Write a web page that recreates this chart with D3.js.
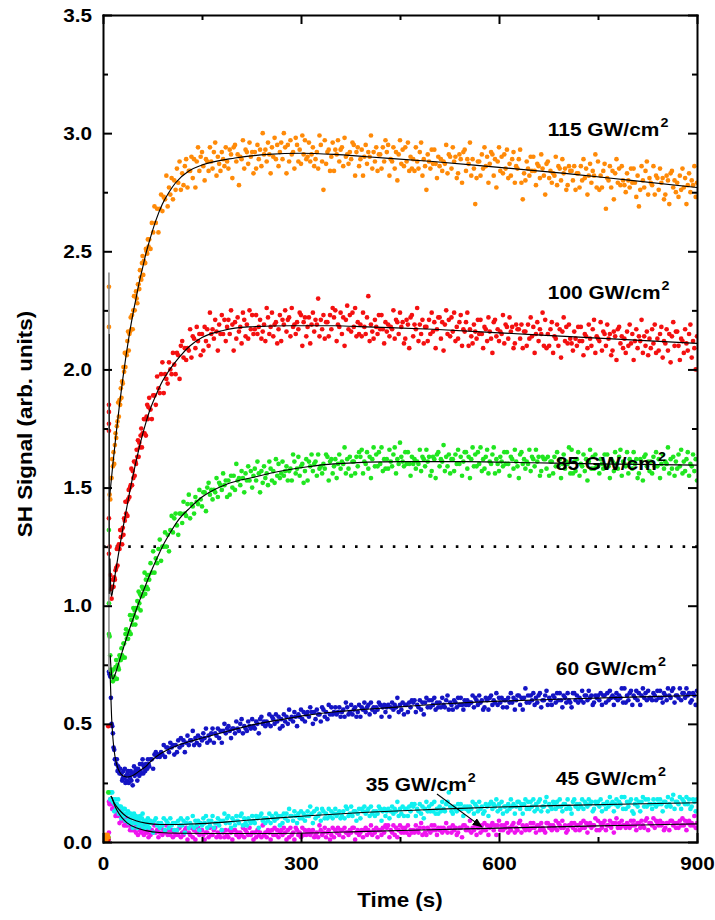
<!DOCTYPE html>
<html>
<head>
<meta charset="utf-8">
<script src="https://cdn.jsdelivr.net/npm/d3@7"></script>
<style>
  html, body { margin: 0; padding: 0; background: #fff; }
  svg { display: block; }
</style>
</head>
<body>
<svg id="chart" width="715" height="920"></svg>
<script>
// ---------------------------------------------------------------
// SH signal vs. time for six peak intensities (GW/cm^2)
// Readings are logged on three time grids:
//   baseline (before the beam opens), dense transient, slower plateau
// ---------------------------------------------------------------
const baselineStart = 1, baselineStep = 1;   // s
const earlyStart = 10, earlyStep = 1;        // s
const lateStart = 70, lateStep = 2;          // s

const xMajorTicks = [0, 300, 600, 900];
const xMinorTicks = [150, 450, 750];
const yMajorTicks = [0, 0.5, 1.0, 1.5, 2.0, 2.5, 3.0, 3.5];
const yMinorTicks = [0.25, 0.75, 1.25, 1.75, 2.25, 2.75, 3.25];

const intensities = ["115", "100", "85", "60", "45", "35"];
const thresholdLevel = 1.25;

// ---------- 115 GW/cm^2 ----------
const orangeBase = [0.02, 0.01, 0.03, 0.02, 0.01, 0.02, 0.03, 0.02];
const orangeOnset = [[9, 2.35], [9, 2.18]];
const orangeEarly = [
  1.47, 1.45, 1.54, 1.54, 1.62, 1.59, 1.65, 1.60, 1.68, 1.73, 1.71, 1.76, 1.78, 1.86, 1.80, 1.87, 1.85, 1.92, 1.88, 1.95,
  1.94, 2.01, 1.99, 2.07, 2.01, 2.07, 2.06, 2.12, 2.16, 2.08, 2.15, 2.16, 2.22, 2.17, 2.23, 2.17, 2.25, 2.31, 2.25, 2.31,
  2.33, 2.30, 2.28, 2.36, 2.36, 2.34, 2.42, 2.39, 2.38, 2.45, 2.48, 2.40, 2.46, 2.45, 2.45, 2.51, 2.50, 2.49, 2.55, 2.52];
const orangeLate = [
  2.55, 2.51, 2.62, 2.58, 2.69, 2.62, 2.68, 2.58, 2.68, 2.74, 2.67, 2.73, 2.72, 2.82, 2.69, 2.77, 2.74, 2.81, 2.72, 2.80,
  2.76, 2.85, 2.79, 2.88, 2.76, 2.83, 2.78, 2.86, 2.89, 2.77, 2.84, 2.84, 2.90, 2.81, 2.89, 2.77, 2.88, 2.94, 2.84, 2.90,
  2.92, 2.86, 2.80, 2.89, 2.88, 2.84, 2.94, 2.88, 2.85, 2.92, 2.96, 2.82, 2.90, 2.87, 2.84, 2.92, 2.89, 2.86, 2.94, 2.88,
  2.85, 2.93, 2.91, 2.81, 2.94, 2.95, 2.88, 2.91, 2.78, 2.90, 2.89, 2.97, 2.85, 2.93, 2.92, 2.87, 2.96, 2.90, 2.92, 2.83,
  2.92, 2.85, 2.95, 2.89, 2.93, 2.86, 3.00, 2.91, 2.93, 2.88, 2.96, 2.91, 2.83, 2.94, 2.90, 2.98, 2.89, 2.95, 2.86, 2.92,
  2.96, 2.89, 3.00, 2.94, 2.83, 2.95, 2.88, 2.97, 2.91, 2.92, 2.85, 2.98, 2.95, 2.88, 2.93, 2.87, 2.99, 2.91, 2.97, 2.89,
  2.90, 2.96, 2.88, 2.91, 2.94, 2.86, 2.89, 2.92, 2.85, 2.99, 2.95, 2.88, 2.76, 2.97, 2.87, 2.92, 2.93, 2.84, 2.90, 2.96,
  2.84, 2.93, 2.91, 2.97, 2.88, 2.93, 2.94, 2.86, 2.98, 2.90, 2.91, 2.87, 2.92, 2.89, 2.96, 2.95, 2.82, 2.92, 2.94, 2.86,
  2.89, 2.93, 2.82, 2.90, 2.95, 2.87, 2.92, 2.90, 2.99, 2.85, 2.92, 2.88, 2.94, 2.84, 2.91, 2.91, 2.85, 2.94, 2.88, 2.97,
  2.92, 2.95, 2.82, 2.89, 2.88, 2.94, 2.85, 2.92, 2.80, 2.91, 2.97, 2.87, 2.93, 2.86, 2.94, 2.88, 2.96, 2.84, 2.90, 2.85,
  2.89, 2.84, 2.94, 2.88, 2.85, 2.92, 2.96, 2.82, 2.89, 2.86, 2.76, 2.91, 2.88, 2.85, 2.93, 2.87, 2.93, 2.87, 2.81, 2.90,
  2.86, 2.89, 2.84, 2.88, 2.87, 2.95, 2.83, 2.91, 2.90, 2.85, 2.94, 2.88, 2.90, 2.81, 2.83, 2.91, 2.89, 2.79, 2.92, 2.93,
  2.84, 2.89, 2.87, 2.96, 2.82, 2.89, 2.85, 2.70, 2.81, 2.88, 2.88, 2.82, 2.91, 2.85, 2.94, 2.86, 2.90, 2.79, 2.87, 2.92,
  2.91, 2.82, 2.89, 2.77, 2.88, 2.94, 2.84, 2.90, 2.83, 2.91, 2.85, 2.93, 2.81, 2.87, 2.82, 2.89, 2.92, 2.79, 2.86, 2.85,
  2.89, 2.93, 2.79, 2.72, 2.83, 2.80, 2.88, 2.85, 2.82, 2.90, 2.84, 2.90, 2.84, 2.78, 2.87, 2.86, 2.81, 2.91, 2.85, 2.82,
  2.74, 2.87, 2.88, 2.81, 2.84, 2.79, 2.83, 2.82, 2.90, 2.78, 2.86, 2.85, 2.80, 2.89, 2.83, 2.85, 2.76, 2.78, 2.86, 2.84,
  2.84, 2.80, 2.86, 2.76, 2.83, 2.83, 2.77, 2.86, 2.80, 2.89, 2.81, 2.85, 2.74, 2.82, 2.87, 2.79, 2.84, 2.82, 2.91, 2.77,
  2.88, 2.76, 2.82, 2.77, 2.84, 2.87, 2.68, 2.81, 2.80, 2.86, 2.77, 2.84, 2.72, 2.83, 2.89, 2.79, 2.85, 2.78, 2.86, 2.80,
  2.78, 2.75, 2.83, 2.80, 2.77, 2.85, 2.79, 2.85, 2.79, 2.73, 2.82, 2.69, 2.76, 2.86, 2.80, 2.77, 2.84, 2.88, 2.74, 2.81,
  2.79, 2.78, 2.86, 2.74, 2.82, 2.81, 2.76, 2.85, 2.79, 2.81, 2.72, 2.74, 2.82, 2.80, 2.70, 2.83, 2.84, 2.77, 2.80, 2.75,
  2.79, 2.73, 2.82, 2.76, 2.85, 2.77, 2.81, 2.70, 2.78, 2.83, 2.75, 2.80, 2.78, 2.86, 2.73, 2.79];
const orangeFit = [[10, 1.46], [15, 1.6], [20, 1.73], [25, 1.85], [30, 1.96], [35, 2.06], [40, 2.15], [45, 2.23],
  [50, 2.3], [55, 2.37], [60, 2.43], [65, 2.49], [70, 2.54], [80, 2.63], [90, 2.7], [100, 2.75], [110, 2.79],
  [130, 2.84], [150, 2.865], [200, 2.895], [250, 2.91], [300, 2.915], [350, 2.91], [400, 2.9], [500, 2.88],
  [600, 2.855], [700, 2.83], [800, 2.8], [900, 2.77]];

// ---------- 100 GW/cm^2 ----------
const redBase = [0.01, 0.02, 0.01, 0.01, 0.02, 0.01, 0.02, 0.01];
const redOnset = [[8, 0.49], [9, 1.85], [9, 1.82], [9, 1.77], [9, 1.74], [9, 1.37], [9, 1.22]];
const redEarly = [
  1.25, 1.13, 1.07, 1.03, 1.08, 1.11, 1.08, 1.12, 1.11, 1.15, 1.16, 1.24, 1.17, 1.25, 1.26, 1.24, 1.32, 1.29, 1.32, 1.26,
  1.33, 1.30, 1.37, 1.36, 1.44, 1.39, 1.44, 1.38, 1.45, 1.49, 1.46, 1.50, 1.51, 1.58, 1.51, 1.57, 1.54, 1.61, 1.55, 1.61,
  1.60, 1.66, 1.63, 1.70, 1.63, 1.69, 1.67, 1.72, 1.75, 1.67, 1.73, 1.73, 1.79, 1.73, 1.79, 1.72, 1.80, 1.85, 1.79, 1.84];
const redLate = [
  1.88, 1.83, 1.79, 1.89, 1.89, 1.85, 1.97, 1.92, 1.90, 1.98, 2.03, 1.90, 1.98, 1.96, 1.94, 2.03, 2.00, 1.98, 2.07, 2.02,
  1.98, 2.07, 2.06, 1.96, 2.10, 2.12, 2.05, 2.09, 2.04, 2.09, 2.08, 2.17, 2.05, 2.14, 2.13, 2.09, 2.18, 2.12, 2.15, 2.06,
  2.15, 2.08, 2.18, 2.12, 2.17, 2.10, 2.24, 2.15, 2.17, 2.13, 2.21, 2.16, 2.08, 2.19, 2.15, 2.23, 2.15, 2.21, 2.12, 2.18,
  2.21, 2.15, 2.25, 2.19, 2.08, 2.20, 2.13, 2.22, 2.16, 2.18, 2.11, 2.24, 2.21, 2.14, 2.19, 2.13, 2.25, 2.17, 2.23, 2.15,
  2.17, 2.23, 2.15, 2.18, 2.21, 2.13, 2.16, 2.19, 2.12, 2.26, 2.22, 2.15, 2.18, 2.24, 2.14, 2.19, 2.20, 2.11, 2.17, 2.23,
  2.12, 2.21, 2.19, 2.25, 2.16, 2.21, 2.22, 2.14, 2.26, 2.18, 2.19, 2.15, 2.20, 2.17, 2.24, 2.23, 2.10, 2.20, 2.22, 2.14,
  2.18, 2.22, 2.11, 2.19, 2.24, 2.16, 2.21, 2.19, 2.30, 2.14, 2.21, 2.17, 2.23, 2.13, 2.20, 2.20, 2.14, 2.23, 2.17, 2.26,
  2.22, 2.25, 2.12, 2.19, 2.18, 2.24, 2.15, 2.22, 2.10, 2.21, 2.27, 2.17, 2.23, 2.16, 2.24, 2.18, 2.26, 2.14, 2.20, 2.15,
  2.19, 2.14, 2.24, 2.18, 2.15, 2.22, 2.31, 2.12, 2.19, 2.16, 2.13, 2.21, 2.18, 2.15, 2.23, 2.17, 2.23, 2.17, 2.11, 2.20,
  2.16, 2.19, 2.14, 2.18, 2.17, 2.25, 2.13, 2.21, 2.20, 2.15, 2.24, 2.18, 2.20, 2.11, 2.13, 2.21, 2.19, 2.09, 2.22, 2.23,
  2.14, 2.19, 2.17, 2.26, 2.12, 2.19, 2.15, 2.21, 2.11, 2.18, 2.18, 2.12, 2.21, 2.15, 2.24, 2.16, 2.20, 2.09, 2.17, 2.22,
  2.22, 2.13, 2.20, 2.08, 2.19, 2.25, 2.15, 2.21, 2.14, 2.22, 2.16, 2.24, 2.12, 2.18, 2.13, 2.20, 2.23, 2.10, 2.17, 2.16,
  2.20, 2.24, 2.10, 2.17, 2.14, 2.11, 2.19, 2.16, 2.13, 2.21, 2.15, 2.21, 2.15, 2.09, 2.18, 2.17, 2.12, 2.22, 2.16, 2.13,
  2.07, 2.20, 2.21, 2.14, 2.17, 2.12, 2.16, 2.15, 2.23, 2.11, 2.19, 2.18, 2.13, 2.22, 2.16, 2.18, 2.09, 2.11, 2.19, 2.17,
  2.17, 2.13, 2.19, 2.09, 2.16, 2.16, 2.10, 2.19, 2.13, 2.22, 2.14, 2.18, 2.07, 2.15, 2.20, 2.12, 2.17, 2.15, 2.24, 2.10,
  2.21, 2.09, 2.15, 2.10, 2.17, 2.20, 2.07, 2.14, 2.13, 2.19, 2.10, 2.17, 2.05, 2.16, 2.22, 2.12, 2.18, 2.11, 2.19, 2.13,
  2.11, 2.08, 2.16, 2.13, 2.10, 2.18, 2.12, 2.18, 2.12, 2.06, 2.15, 2.14, 2.09, 2.19, 2.13, 2.10, 2.17, 2.21, 2.07, 2.14,
  2.13, 2.12, 2.20, 2.08, 2.16, 2.15, 2.10, 2.19, 2.13, 2.15, 2.06, 2.08, 2.16, 2.14, 2.04, 2.17, 2.18, 2.11, 2.14, 2.09,
  2.13, 2.07, 2.16, 2.10, 2.19, 2.11, 2.15, 2.04, 2.12, 2.17, 2.09, 2.14, 2.12, 2.21, 2.07, 2.14, 2.10, 2.16, 2.06, 2.13,
  2.09, 2.17, 2.11, 2.19, 2.07, 2.13, 2.08, 2.15, 2.18, 2.05, 2.12, 2.11, 2.17, 2.08, 2.15, 2.03, 2.14, 2.20, 2.10, 2.16,
  2.16, 2.10, 2.04, 2.13, 2.12, 2.07, 2.17, 2.11, 2.08, 2.15, 2.19, 2.05, 2.12, 2.09, 2.00, 2.14];
const redFit = [[10.5, 1.2], [12, 1.06], [13, 1.04], [16, 1.09], [20, 1.16], [25, 1.245], [30, 1.325], [35, 1.4],
  [40, 1.475], [45, 1.545], [50, 1.61], [55, 1.67], [60, 1.725], [65, 1.775], [70, 1.82], [80, 1.89], [90, 1.95],
  [100, 1.995], [115, 2.05], [132, 2.1], [150, 2.135], [182, 2.165], [220, 2.18], [283, 2.185], [350, 2.185],
  [400, 2.18], [500, 2.17], [600, 2.155], [700, 2.14], [800, 2.125], [900, 2.11]];

// ---------- 85 GW/cm^2 ----------
const greenBase = [0.02, 0.01, 0.02, 0.01, 0.01, 0.02, 0.01, 0.02];
const greenOnset = [[8, 0.21], [9, 1.32], [9, 1.01], [9, 0.88]];
const greenEarly = [
  0.87, 0.79, 0.73, 0.72, 0.70, 0.68, 0.73, 0.70, 0.69, 0.74, 0.77, 0.69, 0.75, 0.74, 0.73, 0.79, 0.78, 0.77, 0.82, 0.79,
  0.78, 0.84, 0.84, 0.78, 0.88, 0.90, 0.86, 0.88, 0.86, 0.89, 0.89, 0.96, 0.88, 0.94, 0.94, 0.92, 0.99, 0.96, 0.98, 0.92,
  0.99, 0.95, 1.02, 0.99, 1.06, 1.01, 1.05, 0.98, 1.04, 1.08, 1.04, 1.07, 1.07, 1.14, 1.05, 1.11, 1.08, 1.13, 1.07, 1.13];
const greenLate = [
  1.11, 1.18, 1.14, 1.23, 1.14, 1.20, 1.18, 1.24, 1.28, 1.19, 1.25, 1.25, 1.31, 1.25, 1.30, 1.23, 1.32, 1.38, 1.31, 1.37,
  1.39, 1.34, 1.30, 1.39, 1.39, 1.35, 1.44, 1.39, 1.38, 1.43, 1.47, 1.37, 1.43, 1.42, 1.39, 1.46, 1.44, 1.43, 1.49, 1.45,
  1.42, 1.48, 1.48, 1.40, 1.50, 1.52, 1.47, 1.49, 1.45, 1.49, 1.48, 1.54, 1.46, 1.52, 1.51, 1.49, 1.56, 1.51, 1.53, 1.46,
  1.53, 1.47, 1.55, 1.50, 1.55, 1.49, 1.60, 1.53, 1.54, 1.51, 1.57, 1.54, 1.48, 1.56, 1.53, 1.59, 1.53, 1.57, 1.50, 1.55,
  1.58, 1.53, 1.61, 1.56, 1.48, 1.57, 1.52, 1.59, 1.54, 1.56, 1.51, 1.61, 1.58, 1.53, 1.57, 1.52, 1.62, 1.55, 1.60, 1.54,
  1.56, 1.61, 1.55, 1.57, 1.59, 1.53, 1.57, 1.58, 1.53, 1.64, 1.61, 1.56, 1.58, 1.63, 1.55, 1.59, 1.60, 1.52, 1.57, 1.62,
  1.53, 1.61, 1.59, 1.64, 1.57, 1.60, 1.61, 1.55, 1.64, 1.58, 1.59, 1.56, 1.60, 1.58, 1.64, 1.63, 1.53, 1.61, 1.62, 1.56,
  1.59, 1.62, 1.54, 1.60, 1.64, 1.58, 1.61, 1.60, 1.67, 1.56, 1.62, 1.58, 1.63, 1.55, 1.61, 1.61, 1.56, 1.63, 1.59, 1.65,
  1.63, 1.66, 1.56, 1.61, 1.60, 1.65, 1.58, 1.63, 1.54, 1.62, 1.67, 1.59, 1.64, 1.59, 1.65, 1.60, 1.67, 1.57, 1.62, 1.58,
  1.62, 1.58, 1.66, 1.61, 1.59, 1.64, 1.67, 1.56, 1.62, 1.60, 1.69, 1.63, 1.61, 1.59, 1.65, 1.60, 1.65, 1.60, 1.55, 1.63,
  1.60, 1.62, 1.58, 1.61, 1.60, 1.66, 1.57, 1.63, 1.62, 1.59, 1.66, 1.61, 1.63, 1.55, 1.57, 1.63, 1.62, 1.54, 1.64, 1.65,
  1.59, 1.62, 1.61, 1.68, 1.57, 1.63, 1.59, 1.64, 1.56, 1.62, 1.62, 1.57, 1.64, 1.60, 1.66, 1.60, 1.63, 1.55, 1.61, 1.65,
  1.65, 1.58, 1.63, 1.54, 1.62, 1.67, 1.59, 1.64, 1.59, 1.65, 1.60, 1.67, 1.57, 1.62, 1.58, 1.63, 1.66, 1.56, 1.61, 1.60,
  1.64, 1.67, 1.56, 1.62, 1.60, 1.57, 1.63, 1.61, 1.59, 1.65, 1.60, 1.65, 1.60, 1.55, 1.63, 1.62, 1.58, 1.66, 1.61, 1.59,
  1.54, 1.64, 1.65, 1.60, 1.62, 1.58, 1.61, 1.60, 1.66, 1.57, 1.63, 1.62, 1.59, 1.66, 1.61, 1.63, 1.55, 1.57, 1.63, 1.62,
  1.62, 1.58, 1.63, 1.55, 1.61, 1.61, 1.56, 1.63, 1.59, 1.65, 1.59, 1.62, 1.54, 1.60, 1.64, 1.58, 1.61, 1.60, 1.67, 1.56,
  1.66, 1.56, 1.61, 1.57, 1.62, 1.65, 1.55, 1.60, 1.59, 1.64, 1.57, 1.62, 1.53, 1.61, 1.66, 1.58, 1.63, 1.58, 1.64, 1.59,
  1.59, 1.56, 1.62, 1.60, 1.58, 1.64, 1.59, 1.64, 1.59, 1.54, 1.62, 1.61, 1.57, 1.65, 1.60, 1.58, 1.63, 1.66, 1.55, 1.61,
  1.60, 1.59, 1.65, 1.56, 1.62, 1.61, 1.58, 1.65, 1.60, 1.62, 1.54, 1.56, 1.62, 1.61, 1.53, 1.63, 1.64, 1.59, 1.61, 1.57,
  1.61, 1.56, 1.63, 1.59, 1.65, 1.59, 1.62, 1.54, 1.60, 1.64, 1.58, 1.61, 1.60, 1.67, 1.56, 1.62, 1.58, 1.63, 1.55, 1.61,
  1.58, 1.64, 1.59, 1.66, 1.56, 1.61, 1.57, 1.62, 1.65, 1.55, 1.60, 1.59, 1.64, 1.57, 1.62, 1.53];
const greenFit = [[11, 0.79], [12, 0.74], [13, 0.71], [15, 0.69], [17, 0.7], [20, 0.723], [25, 0.768], [30, 0.813],
  [35, 0.857], [40, 0.9], [45, 0.94], [50, 0.98], [55, 1.018], [60, 1.055], [65, 1.09], [70, 1.125], [80, 1.19],
  [90, 1.25], [100, 1.3], [115, 1.365], [132, 1.415], [150, 1.46], [188, 1.515], [230, 1.545], [270, 1.57],
  [310, 1.588], [350, 1.6], [450, 1.61], [550, 1.61], [650, 1.605], [750, 1.6], [900, 1.595]];

// ---------- 60 GW/cm^2 ----------
const blueBase = [0.01, 0.02, 0.02, 0.01, 0.01, 0.02, 0.01, 0.01];
const blueOnset = [[9, 0.72]];
const blueEarly = [
  0.71, 0.70, 0.61, 0.50, 0.49, 0.46, 0.40, 0.39, 0.35, 0.35, 0.33, 0.35, 0.30, 0.32, 0.31, 0.29, 0.31, 0.29, 0.29, 0.26,
  0.27, 0.30, 0.27, 0.31, 0.25, 0.28, 0.26, 0.29, 0.30, 0.25, 0.28, 0.27, 0.30, 0.26, 0.29, 0.24, 0.29, 0.32, 0.28, 0.30,
  0.31, 0.29, 0.26, 0.31, 0.30, 0.28, 0.33, 0.30, 0.29, 0.33, 0.35, 0.29, 0.32, 0.31, 0.30, 0.33, 0.32, 0.31, 0.35, 0.33];
const blueLate = [
  0.32, 0.35, 0.35, 0.31, 0.37, 0.38, 0.36, 0.37, 0.36, 0.38, 0.37, 0.41, 0.36, 0.40, 0.40, 0.38, 0.42, 0.40, 0.41, 0.37,
  0.41, 0.38, 0.43, 0.40, 0.44, 0.41, 0.43, 0.38, 0.42, 0.45, 0.41, 0.43, 0.43, 0.47, 0.41, 0.44, 0.42, 0.45, 0.41, 0.44,
  0.43, 0.46, 0.44, 0.48, 0.42, 0.45, 0.43, 0.46, 0.48, 0.42, 0.46, 0.45, 0.48, 0.44, 0.47, 0.42, 0.47, 0.50, 0.46, 0.48,
  0.49, 0.47, 0.44, 0.48, 0.48, 0.46, 0.51, 0.48, 0.47, 0.50, 0.52, 0.46, 0.49, 0.48, 0.47, 0.51, 0.49, 0.48, 0.52, 0.49,
  0.48, 0.51, 0.50, 0.46, 0.52, 0.53, 0.50, 0.51, 0.49, 0.51, 0.50, 0.54, 0.49, 0.53, 0.52, 0.50, 0.54, 0.51, 0.53, 0.48,
  0.52, 0.49, 0.54, 0.51, 0.53, 0.50, 0.56, 0.52, 0.53, 0.51, 0.55, 0.53, 0.49, 0.54, 0.53, 0.56, 0.52, 0.55, 0.51, 0.54,
  0.55, 0.53, 0.57, 0.55, 0.50, 0.55, 0.52, 0.56, 0.54, 0.54, 0.51, 0.57, 0.56, 0.53, 0.55, 0.52, 0.58, 0.54, 0.57, 0.54,
  0.55, 0.57, 0.54, 0.55, 0.57, 0.53, 0.55, 0.56, 0.53, 0.59, 0.57, 0.54, 0.55, 0.58, 0.54, 0.56, 0.57, 0.53, 0.55, 0.58,
  0.53, 0.57, 0.56, 0.59, 0.55, 0.57, 0.58, 0.54, 0.59, 0.56, 0.57, 0.55, 0.57, 0.56, 0.59, 0.58, 0.53, 0.57, 0.58, 0.55,
  0.57, 0.58, 0.53, 0.57, 0.59, 0.56, 0.58, 0.57, 0.61, 0.55, 0.58, 0.56, 0.59, 0.54, 0.58, 0.58, 0.55, 0.59, 0.57, 0.60,
  0.59, 0.60, 0.55, 0.58, 0.57, 0.60, 0.56, 0.59, 0.54, 0.59, 0.61, 0.57, 0.60, 0.57, 0.60, 0.58, 0.61, 0.56, 0.59, 0.57,
  0.59, 0.57, 0.61, 0.58, 0.57, 0.60, 0.62, 0.56, 0.59, 0.58, 0.56, 0.60, 0.59, 0.57, 0.61, 0.58, 0.61, 0.58, 0.56, 0.60,
  0.58, 0.60, 0.58, 0.59, 0.59, 0.62, 0.57, 0.61, 0.60, 0.58, 0.62, 0.59, 0.60, 0.56, 0.57, 0.61, 0.60, 0.56, 0.61, 0.62,
  0.58, 0.60, 0.59, 0.63, 0.58, 0.61, 0.59, 0.61, 0.57, 0.60, 0.60, 0.57, 0.61, 0.59, 0.63, 0.59, 0.61, 0.56, 0.60, 0.62,
  0.62, 0.58, 0.61, 0.56, 0.61, 0.65, 0.59, 0.62, 0.59, 0.62, 0.60, 0.63, 0.58, 0.61, 0.59, 0.62, 0.63, 0.57, 0.60, 0.60,
  0.62, 0.64, 0.58, 0.61, 0.60, 0.58, 0.62, 0.61, 0.59, 0.63, 0.60, 0.63, 0.60, 0.57, 0.62, 0.61, 0.59, 0.63, 0.60, 0.59,
  0.57, 0.63, 0.63, 0.60, 0.62, 0.59, 0.61, 0.60, 0.64, 0.59, 0.62, 0.62, 0.60, 0.64, 0.61, 0.62, 0.58, 0.59, 0.62, 0.61,
  0.62, 0.60, 0.63, 0.58, 0.62, 0.62, 0.59, 0.63, 0.60, 0.64, 0.61, 0.62, 0.58, 0.61, 0.63, 0.60, 0.62, 0.61, 0.65, 0.59,
  0.65, 0.59, 0.62, 0.60, 0.63, 0.64, 0.58, 0.62, 0.61, 0.64, 0.60, 0.63, 0.58, 0.62, 0.65, 0.61, 0.63, 0.60, 0.64, 0.61,
  0.61, 0.60, 0.63, 0.62, 0.60, 0.64, 0.61, 0.64, 0.61, 0.59, 0.63, 0.62, 0.60, 0.65, 0.62, 0.61, 0.64, 0.65, 0.59, 0.62,
  0.62, 0.61, 0.65, 0.60, 0.63, 0.63, 0.61, 0.65, 0.62, 0.63, 0.59, 0.60, 0.63, 0.62, 0.58, 0.64];
const blueFit = [[10, 0.72], [11, 0.69], [12, 0.61], [13, 0.53], [14, 0.48], [15, 0.44], [16, 0.41], [18, 0.365],
  [20, 0.337], [22, 0.317], [25, 0.297], [28, 0.285], [32, 0.278], [36, 0.275], [40, 0.276], [45, 0.281], [50, 0.29],
  [55, 0.3], [60, 0.31], [65, 0.32], [70, 0.335], [80, 0.36], [90, 0.379], [100, 0.393], [110, 0.405], [130, 0.424],
  [150, 0.44], [190, 0.47], [230, 0.498], [270, 0.518], [310, 0.537], [350, 0.55], [400, 0.562], [450, 0.572],
  [500, 0.582], [550, 0.59], [600, 0.596], [700, 0.605], [800, 0.613], [900, 0.62]];

// ---------- 45 GW/cm^2 ----------
const cyanBase = [0.01, 0.01, 0.02, 0.01, 0.02, 0.01, 0.01, 0.02];
const cyanOnset = [[9, 0.21]];
const cyanEarly = [
  0.21, 0.18, 0.21, 0.18, 0.21, 0.17, 0.18, 0.13, 0.16, 0.18, 0.14, 0.16, 0.14, 0.18, 0.12, 0.15, 0.12, 0.15, 0.10, 0.13,
  0.11, 0.14, 0.11, 0.14, 0.09, 0.12, 0.09, 0.12, 0.13, 0.08, 0.10, 0.09, 0.12, 0.08, 0.11, 0.06, 0.10, 0.12, 0.08, 0.10,
  0.11, 0.08, 0.06, 0.10, 0.09, 0.07, 0.11, 0.08, 0.07, 0.10, 0.12, 0.06, 0.09, 0.08, 0.06, 0.09, 0.08, 0.07, 0.10, 0.08];
const cyanLate = [
  0.06, 0.09, 0.08, 0.04, 0.09, 0.10, 0.07, 0.08, 0.06, 0.08, 0.07, 0.10, 0.05, 0.09, 0.08, 0.06, 0.10, 0.07, 0.08, 0.05,
  0.08, 0.05, 0.09, 0.07, 0.10, 0.07, 0.09, 0.04, 0.08, 0.10, 0.06, 0.08, 0.07, 0.11, 0.06, 0.09, 0.07, 0.09, 0.05, 0.08,
  0.07, 0.10, 0.08, 0.11, 0.06, 0.09, 0.07, 0.09, 0.11, 0.06, 0.08, 0.08, 0.10, 0.07, 0.09, 0.05, 0.09, 0.12, 0.08, 0.10,
  0.11, 0.08, 0.06, 0.10, 0.09, 0.07, 0.11, 0.09, 0.08, 0.11, 0.12, 0.07, 0.10, 0.08, 0.07, 0.10, 0.09, 0.08, 0.11, 0.09,
  0.08, 0.11, 0.10, 0.06, 0.11, 0.12, 0.09, 0.10, 0.08, 0.10, 0.09, 0.12, 0.08, 0.11, 0.10, 0.09, 0.12, 0.10, 0.11, 0.07,
  0.11, 0.08, 0.12, 0.10, 0.12, 0.09, 0.14, 0.11, 0.11, 0.09, 0.13, 0.11, 0.08, 0.12, 0.10, 0.13, 0.10, 0.12, 0.09, 0.11,
  0.13, 0.11, 0.15, 0.12, 0.08, 0.13, 0.10, 0.14, 0.11, 0.12, 0.09, 0.14, 0.13, 0.10, 0.12, 0.10, 0.14, 0.11, 0.13, 0.10,
  0.12, 0.14, 0.11, 0.12, 0.13, 0.10, 0.11, 0.13, 0.10, 0.15, 0.14, 0.11, 0.12, 0.15, 0.11, 0.13, 0.13, 0.09, 0.12, 0.14,
  0.10, 0.14, 0.13, 0.15, 0.12, 0.13, 0.14, 0.11, 0.15, 0.12, 0.13, 0.11, 0.13, 0.12, 0.15, 0.14, 0.09, 0.13, 0.14, 0.11,
  0.13, 0.14, 0.10, 0.13, 0.15, 0.12, 0.14, 0.13, 0.17, 0.11, 0.14, 0.12, 0.15, 0.11, 0.14, 0.14, 0.11, 0.15, 0.13, 0.16,
  0.15, 0.16, 0.11, 0.14, 0.13, 0.16, 0.12, 0.15, 0.10, 0.14, 0.17, 0.13, 0.15, 0.13, 0.16, 0.13, 0.17, 0.12, 0.14, 0.12,
  0.15, 0.13, 0.17, 0.14, 0.13, 0.16, 0.17, 0.21, 0.15, 0.13, 0.12, 0.15, 0.14, 0.13, 0.16, 0.14, 0.16, 0.14, 0.11, 0.15,
  0.14, 0.15, 0.13, 0.15, 0.14, 0.17, 0.12, 0.16, 0.15, 0.13, 0.17, 0.14, 0.15, 0.12, 0.13, 0.16, 0.15, 0.11, 0.16, 0.17,
  0.14, 0.16, 0.15, 0.18, 0.13, 0.16, 0.14, 0.17, 0.12, 0.15, 0.15, 0.13, 0.16, 0.14, 0.18, 0.15, 0.16, 0.12, 0.15, 0.17,
  0.17, 0.14, 0.16, 0.12, 0.16, 0.18, 0.14, 0.17, 0.14, 0.17, 0.15, 0.18, 0.13, 0.16, 0.14, 0.17, 0.18, 0.13, 0.15, 0.15,
  0.17, 0.19, 0.13, 0.16, 0.15, 0.14, 0.17, 0.16, 0.14, 0.17, 0.15, 0.18, 0.15, 0.13, 0.16, 0.16, 0.14, 0.18, 0.15, 0.14,
  0.12, 0.17, 0.18, 0.15, 0.16, 0.14, 0.16, 0.15, 0.18, 0.14, 0.17, 0.16, 0.15, 0.18, 0.16, 0.17, 0.13, 0.14, 0.17, 0.16,
  0.17, 0.15, 0.18, 0.13, 0.16, 0.16, 0.14, 0.17, 0.15, 0.19, 0.16, 0.17, 0.13, 0.16, 0.18, 0.15, 0.17, 0.16, 0.19, 0.14,
  0.19, 0.14, 0.17, 0.15, 0.17, 0.18, 0.13, 0.12, 0.16, 0.18, 0.15, 0.17, 0.13, 0.17, 0.19, 0.15, 0.18, 0.15, 0.18, 0.16,
  0.16, 0.14, 0.18, 0.16, 0.15, 0.18, 0.16, 0.18, 0.16, 0.13, 0.17, 0.17, 0.15, 0.19, 0.16, 0.15, 0.18, 0.20, 0.14, 0.17,
  0.17, 0.16, 0.19, 0.14, 0.18, 0.17, 0.16, 0.19, 0.16, 0.18, 0.14, 0.15, 0.18, 0.17, 0.13, 0.18];
const cyanFit = [[12, 0.195], [13, 0.19], [17, 0.165], [21, 0.149], [28, 0.126], [36, 0.107], [50, 0.09], [65, 0.08],
  [86, 0.074], [110, 0.074], [140, 0.077], [162, 0.08], [200, 0.088], [250, 0.099], [311, 0.111], [400, 0.126],
  [500, 0.138], [600, 0.148], [700, 0.155], [800, 0.161], [900, 0.166]];

// ---------- 35 GW/cm^2 ----------
const magentaBase = [0.02, 0.01, 0.01, 0.02, 0.01, 0.02, 0.02, 0.01];
const magentaOnset = [[9, 0.17], [9, 0.04]];
const magentaEarly = [
  0.16, 0.18, 0.16, 0.18, 0.14, 0.16, 0.14, 0.15, 0.16, 0.11, 0.13, 0.12, 0.14, 0.11, 0.12, 0.08, 0.11, 0.13, 0.09, 0.11,
  0.11, 0.09, 0.07, 0.10, 0.09, 0.07, 0.10, 0.08, 0.07, 0.09, 0.10, 0.05, 0.08, 0.06, 0.05, 0.08, 0.06, 0.05, 0.08, 0.06,
  0.04, 0.07, 0.06, 0.03, 0.07, 0.07, 0.05, 0.06, 0.04, 0.05, 0.05, 0.07, 0.03, 0.06, 0.05, 0.04, 0.07, 0.04, 0.05, 0.02];
const magentaLate = [
  0.05, 0.03, 0.05, 0.04, 0.07, 0.04, 0.05, 0.02, 0.04, 0.06, 0.03, 0.05, 0.04, 0.07, 0.03, 0.05, 0.03, 0.05, 0.02, 0.04,
  0.03, 0.05, 0.03, 0.06, 0.02, 0.04, 0.03, 0.05, 0.06, 0.01, 0.04, 0.03, 0.06, 0.02, 0.05, 0.01, 0.04, 0.06, 0.03, 0.05,
  0.05, 0.03, 0.01, 0.04, 0.04, 0.02, 0.06, 0.03, 0.03, 0.05, 0.06, 0.02, 0.04, 0.03, 0.02, 0.05, 0.04, 0.02, 0.05, 0.03,
  0.02, 0.05, 0.04, 0.01, 0.05, 0.05, 0.03, 0.04, 0.02, 0.04, 0.03, 0.06, 0.02, 0.05, 0.04, 0.03, 0.06, 0.03, 0.04, 0.01,
  0.04, 0.02, 0.05, 0.03, 0.04, 0.02, 0.07, 0.03, 0.04, 0.02, 0.05, 0.04, 0.01, 0.05, 0.03, 0.06, 0.03, 0.05, 0.02, 0.04,
  0.05, 0.03, 0.06, 0.04, 0.01, 0.05, 0.02, 0.06, 0.03, 0.04, 0.01, 0.06, 0.05, 0.03, 0.04, 0.02, 0.06, 0.03, 0.05, 0.03,
  0.04, 0.05, 0.03, 0.04, 0.05, 0.02, 0.03, 0.04, 0.02, 0.07, 0.05, 0.03, 0.04, 0.06, 0.02, 0.04, 0.05, 0.01, 0.03, 0.06,
  0.02, 0.05, 0.04, 0.06, 0.03, 0.05, 0.05, 0.02, 0.06, 0.04, 0.04, 0.03, 0.05, 0.04, 0.06, 0.06, 0.01, 0.04, 0.05, 0.03,
  0.04, 0.05, 0.02, 0.05, 0.06, 0.03, 0.05, 0.04, 0.07, 0.03, 0.05, 0.04, 0.06, 0.02, 0.05, 0.05, 0.03, 0.06, 0.04, 0.07,
  0.06, 0.07, 0.02, 0.05, 0.04, 0.07, 0.03, 0.06, 0.02, 0.05, 0.07, 0.04, 0.06, 0.04, 0.06, 0.04, 0.07, 0.03, 0.05, 0.04,
  0.05, 0.04, 0.07, 0.05, 0.04, 0.06, 0.08, 0.03, 0.06, 0.04, 0.03, 0.06, 0.05, 0.04, 0.07, 0.05, 0.07, 0.05, 0.03, 0.06,
  0.05, 0.06, 0.04, 0.06, 0.05, 0.08, 0.04, 0.06, 0.06, 0.04, 0.07, 0.05, 0.06, 0.03, 0.04, 0.06, 0.06, 0.02, 0.07, 0.07,
  0.05, 0.06, 0.05, 0.09, 0.04, 0.06, 0.05, 0.07, 0.03, 0.06, 0.06, 0.04, 0.07, 0.05, 0.08, 0.05, 0.07, 0.03, 0.06, 0.07,
  0.08, 0.05, 0.07, 0.03, 0.07, 0.09, 0.05, 0.07, 0.05, 0.07, 0.06, 0.08, 0.04, 0.06, 0.05, 0.07, 0.08, 0.04, 0.06, 0.05,
  0.08, 0.09, 0.04, 0.07, 0.06, 0.05, 0.07, 0.06, 0.05, 0.08, 0.06, 0.08, 0.06, 0.04, 0.07, 0.07, 0.05, 0.08, 0.06, 0.05,
  0.04, 0.08, 0.08, 0.06, 0.07, 0.05, 0.07, 0.06, 0.09, 0.05, 0.08, 0.07, 0.06, 0.09, 0.06, 0.07, 0.04, 0.05, 0.07, 0.07,
  0.08, 0.06, 0.08, 0.05, 0.07, 0.07, 0.05, 0.08, 0.06, 0.09, 0.06, 0.08, 0.04, 0.07, 0.08, 0.06, 0.07, 0.07, 0.10, 0.05,
  0.09, 0.05, 0.08, 0.06, 0.08, 0.09, 0.05, 0.07, 0.07, 0.09, 0.06, 0.08, 0.04, 0.08, 0.10, 0.06, 0.08, 0.06, 0.09, 0.07,
  0.07, 0.06, 0.08, 0.07, 0.06, 0.09, 0.07, 0.09, 0.07, 0.05, 0.08, 0.08, 0.06, 0.09, 0.07, 0.06, 0.09, 0.10, 0.05, 0.08,
  0.08, 0.07, 0.10, 0.06, 0.09, 0.08, 0.07, 0.09, 0.07, 0.08, 0.05, 0.06, 0.08, 0.08, 0.05, 0.09, 0.09, 0.07, 0.08, 0.06,
  0.08, 0.06, 0.09, 0.07, 0.10, 0.07, 0.09, 0.05, 0.08, 0.09, 0.07, 0.08, 0.07, 0.11, 0.06, 0.08];
const magentaFit = [[12, 0.195], [13, 0.19], [17, 0.16], [21, 0.135], [28, 0.105], [36, 0.082], [50, 0.06], [65, 0.048],
  [86, 0.04], [120, 0.037], [162, 0.036], [250, 0.036], [311, 0.038], [400, 0.045], [500, 0.052], [600, 0.059],
  [700, 0.065], [800, 0.071], [900, 0.077]];

// common beam-opening transient (all runs start at t = 9 s)
const onsetTrace = [[9, 2.41], [9, 0.72]];
const onsetFitTrace = [[9.5, 2.15], [9.5, 1.05]];

// arrow pointing the 35 GW/cm^2 label at its curve
const arrowFrom = [506, 0.203];
const arrowTo = [575, 0.062];

// ---------------------------------------------------------------
// layout
// ---------------------------------------------------------------
const W = 715, H = 920;
const plotLeft = 103, plotRight = 697, plotTop = 15, plotBottom = 842;
const font = '"Liberation Sans", Arial, Helvetica, sans-serif';
const stretch = "scale(1.09,1)";
const dotRadius = 2.35;

const series = [
  { id: "35",  color: "#ef14ef", base: magentaBase, onset: magentaOnset, early: magentaEarly, late: magentaLate, fit: magentaFit },
  { id: "45",  color: "#10f0f0", base: cyanBase,    onset: cyanOnset,    early: cyanEarly,    late: cyanLate,    fit: cyanFit },
  { id: "60",  color: "#1414c4", base: blueBase,    onset: blueOnset,    early: blueEarly,    late: blueLate,    fit: blueFit },
  { id: "85",  color: "#20e620", base: greenBase,   onset: greenOnset,   early: greenEarly,   late: greenLate,   fit: greenFit },
  { id: "100", color: "#f41010", base: redBase,     onset: redOnset,     early: redEarly,     late: redLate,     fit: redFit },
  { id: "115", color: "#ff8a08", base: orangeBase,  onset: orangeOnset,  early: orangeEarly,  late: orangeLate,  fit: orangeFit }
];

// where each intensity label sits (data units: left edge time, baseline value)
const labelSpots = {
  "115": [674, 2.99], "100": [674, 2.30], "85": [686, 1.575],
  "60": [686, 0.707], "45": [686, 0.241], "35": [398, 0.216]
};

const x = d3.scaleLinear().domain([0, 900]).range([plotLeft, plotRight]);
const y = d3.scaleLinear().domain([0, 3.5]).range([plotBottom, plotTop]);

const svg = d3.select("#chart").attr("width", W).attr("height", H);
svg.append("rect").attr("width", W).attr("height", H).attr("fill", "#fff");

const defs = svg.append("defs");
defs.append("clipPath").attr("id", "plotClip").append("rect")
  .attr("x", plotLeft).attr("y", plotTop)
  .attr("width", plotRight - plotLeft).attr("height", plotBottom - plotTop);
defs.append("marker").attr("id", "arrowHead")
  .attr("viewBox", "0 0 10 8").attr("refX", 10).attr("refY", 4)
  .attr("markerWidth", 10).attr("markerHeight", 8)
  .attr("markerUnits", "userSpaceOnUse").attr("orient", "auto")
  .append("path").attr("d", "M0,0 L10,4 L0,8 Z").attr("fill", "#000");

const plot = svg.append("g").attr("clip-path", "url(#plotClip)");

// threshold level
plot.append("line")
  .attr("x1", x(0)).attr("x2", x(900))
  .attr("y1", y(thresholdLevel)).attr("y2", y(thresholdLevel))
  .attr("stroke", "#000").attr("stroke-width", 2.6)
  .attr("stroke-dasharray", "2.6 10");

function readings(s) {
  const pts = [];
  s.base.forEach((v, i) => pts.push([baselineStart + i * baselineStep, v]));
  s.onset.forEach(p => pts.push(p));
  s.early.forEach((v, i) => pts.push([earlyStart + i * earlyStep, v]));
  s.late.forEach((v, i) => pts.push([lateStart + i * lateStep, v]));
  return pts.filter(p => p[0] <= 900);
}

// measured points
series.forEach(s => {
  plot.append("g").attr("class", "pts-" + s.id)
    .selectAll("circle").data(readings(s)).join("circle")
    .attr("cx", d => x(d[0])).attr("cy", d => y(d[1]))
    .attr("r", dotRadius).attr("fill", s.color);
});

// transient trace at the beam opening
const line = d3.line().x(d => x(d[0])).y(d => y(d[1]));
plot.append("path").attr("d", line(onsetTrace))
  .attr("fill", "none").attr("stroke", "#8a8a8a").attr("stroke-width", 1.6);
plot.append("path").attr("d", line(onsetFitTrace))
  .attr("fill", "none").attr("stroke", "#000").attr("stroke-width", 1);

// fitted curves
const fitLine = d3.line().x(d => x(d[0])).y(d => y(d[1])).curve(d3.curveMonotoneX);
series.forEach(s => {
  plot.append("path").attr("d", fitLine(s.fit))
    .attr("fill", "none").attr("stroke", "#000").attr("stroke-width", 1.15);
});

// ---------------- axes ----------------
function styleAxis(g, withText) {
  g.select(".domain").attr("stroke", "#000").attr("stroke-width", 2).attr("stroke-linecap", "square");
  g.selectAll(".tick line").attr("stroke", "#000").attr("stroke-width", 2);
  if (withText) {
    g.selectAll(".tick text")
      .attr("fill", "#000").attr("font-family", font)
      .attr("font-weight", "bold").attr("font-size", 19)
      .attr("transform", stretch);
  } else {
    g.selectAll(".tick text").remove();
  }
}
function minorTicks(g) {
  g.select(".domain").remove();
  g.selectAll(".tick line").attr("stroke", "#000").attr("stroke-width", 2);
  g.selectAll(".tick text").remove();
}

// bottom
svg.append("g").attr("transform", `translate(0,${plotBottom})`)
  .call(d3.axisBottom(x).tickValues(xMajorTicks).tickSizeInner(-9).tickSizeOuter(0)
    .tickPadding(15).tickFormat(d3.format("d")))
  .call(g => styleAxis(g, true));
svg.append("g").attr("transform", `translate(0,${plotBottom})`)
  .call(d3.axisBottom(x).tickValues(xMinorTicks).tickSizeInner(-5).tickSizeOuter(0).tickFormat(""))
  .call(minorTicks);
// top
svg.append("g").attr("transform", `translate(0,${plotTop})`)
  .call(d3.axisTop(x).tickValues(xMajorTicks).tickSizeInner(-9).tickSizeOuter(0).tickFormat(""))
  .call(g => styleAxis(g, false));
svg.append("g").attr("transform", `translate(0,${plotTop})`)
  .call(d3.axisTop(x).tickValues(xMinorTicks).tickSizeInner(-5).tickSizeOuter(0).tickFormat(""))
  .call(minorTicks);
// left
svg.append("g").attr("transform", `translate(${plotLeft},0)`)
  .call(d3.axisLeft(y).tickValues(yMajorTicks).tickSizeInner(-9).tickSizeOuter(0)
    .tickPadding(10).tickFormat(d3.format(".1f")))
  .call(g => styleAxis(g, true));
svg.append("g").attr("transform", `translate(${plotLeft},0)`)
  .call(d3.axisLeft(y).tickValues(yMinorTicks).tickSizeInner(-5).tickSizeOuter(0).tickFormat(""))
  .call(minorTicks);
// right
svg.append("g").attr("transform", `translate(${plotRight},0)`)
  .call(d3.axisRight(y).tickValues(yMajorTicks).tickSizeInner(-9).tickSizeOuter(0).tickFormat(""))
  .call(g => styleAxis(g, false));
svg.append("g").attr("transform", `translate(${plotRight},0)`)
  .call(d3.axisRight(y).tickValues(yMinorTicks).tickSizeInner(-5).tickSizeOuter(0).tickFormat(""))
  .call(minorTicks);

// axis titles
svg.append("text")
  .attr("transform", `translate(${(plotLeft + plotRight) / 2},907) scale(1.12,1)`)
  .attr("text-anchor", "middle").attr("font-family", font).attr("font-weight", "bold")
  .attr("font-size", 20).attr("fill", "#000").text("Time (s)");
svg.append("text")
  .attr("transform", `translate(32,424) rotate(-90) scale(1.12,1)`)
  .attr("text-anchor", "middle").attr("font-family", font).attr("font-weight", "bold")
  .attr("font-size", 20).attr("fill", "#000").text("SH Signal (arb. units)");

// intensity labels
intensities.forEach(id => {
  const [t, v] = labelSpots[id];
  const txt = svg.append("text")
    .attr("transform", `translate(${x(t)},${y(v)}) scale(1.1,1)`)
    .attr("font-family", font).attr("font-weight", "bold")
    .attr("font-size", 19).attr("fill", "#000");
  txt.append("tspan").text(id + " GW/cm");
  txt.append("tspan").attr("font-size", 13).attr("dx", 1).attr("dy", -9).text("2");
});

// arrow
svg.append("line")
  .attr("x1", x(arrowFrom[0])).attr("y1", y(arrowFrom[1]))
  .attr("x2", x(arrowTo[0])).attr("y2", y(arrowTo[1]))
  .attr("stroke", "#000").attr("stroke-width", 1.1)
  .attr("marker-end", "url(#arrowHead)");
</script>
</body>
</html>
